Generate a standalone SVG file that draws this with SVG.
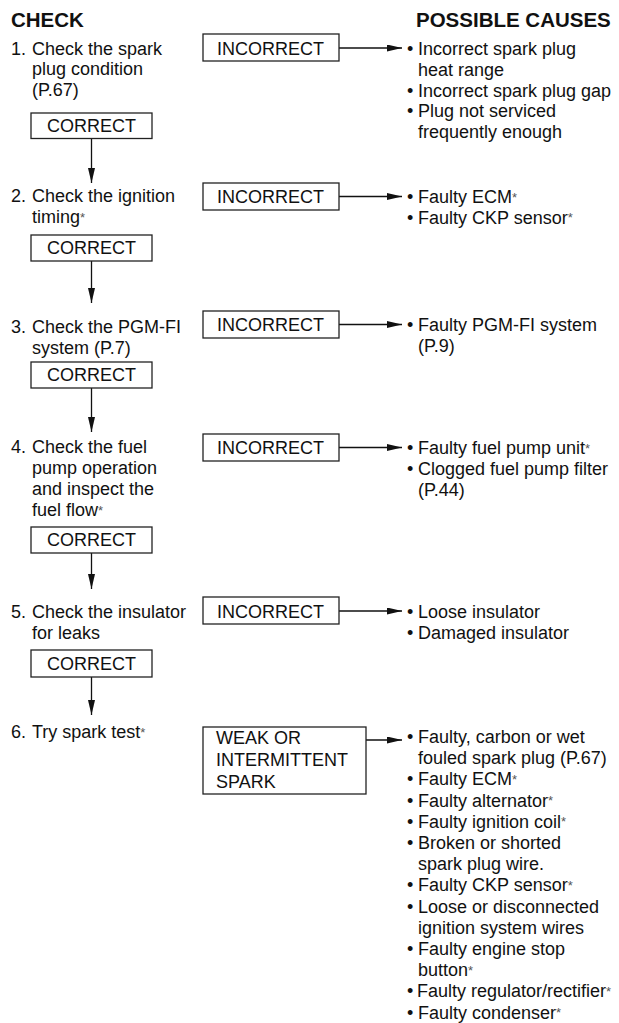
<svg xmlns="http://www.w3.org/2000/svg" width="619" height="1023" viewBox="0 0 619 1023">
<defs>
<marker id="ah" markerUnits="userSpaceOnUse" markerWidth="16" markerHeight="8" refX="15" refY="3.5" orient="auto">
<path d="M0,0 L15,3.5 L0,7 z" fill="#111"/>
</marker>
<style>
text{font-family:"Liberation Sans",Arial,Helvetica,sans-serif;font-size:18px;fill:#111}
.h{font-weight:bold;font-size:20.5px}
.box{fill:#fff;stroke:#222;stroke-width:1.3}
.c{text-anchor:middle}
.ln{stroke:#111;stroke-width:1.3;fill:none}
.s{font-size:13px;fill:#555}
</style>
</defs>
<rect width="619" height="1023" fill="#fff"/>

<g id="headings">
<text class="h" x="11" y="27">CHECK</text>
<text class="h" x="416" y="27">POSSIBLE CAUSES</text>
</g>

<g id="connectors">
<line class="ln" x1="91.5" y1="138.5" x2="91.5" y2="183" marker-end="url(#ah)"/>
<line class="ln" x1="91.5" y1="261" x2="91.5" y2="303" marker-end="url(#ah)"/>
<line class="ln" x1="91.5" y1="388" x2="91.5" y2="432" marker-end="url(#ah)"/>
<line class="ln" x1="91.5" y1="553" x2="91.5" y2="589" marker-end="url(#ah)"/>
<line class="ln" x1="91.5" y1="677" x2="91.5" y2="715" marker-end="url(#ah)"/>
<line class="ln" x1="339" y1="48" x2="402" y2="48" marker-end="url(#ah)"/>
<line class="ln" x1="339" y1="196.5" x2="402" y2="196.5" marker-end="url(#ah)"/>
<line class="ln" x1="339" y1="324.5" x2="402" y2="324.5" marker-end="url(#ah)"/>
<line class="ln" x1="339" y1="447.5" x2="402" y2="447.5" marker-end="url(#ah)"/>
<line class="ln" x1="339" y1="611" x2="402" y2="611" marker-end="url(#ah)"/>
<line class="ln" x1="366" y1="740" x2="402" y2="740" marker-end="url(#ah)"/>
</g>

<g id="step1">
<text x="11" y="54.5">1.</text>
<text x="32" y="54.5">Check the spark</text>
<text x="32" y="75">plug condition</text>
<text x="32" y="95.5">(P.67)</text>
</g>
<g id="correct1"><rect class="box" x="31" y="113" width="121" height="25.5"/><text class="c" x="91.5" y="132">CORRECT</text></g>
<g id="incorrect1"><rect class="box" x="203" y="34" width="136" height="27"/><text x="217" y="55">INCORRECT</text></g>
<g id="causes1">
<text x="407" y="55">•</text><text x="418" y="55">Incorrect spark plug</text>
<text x="418" y="76">heat range</text>
<text x="407" y="96.5">•</text><text x="418" y="96.5">Incorrect spark plug gap</text>
<text x="407" y="117">•</text><text x="418" y="117">Plug not serviced</text>
<text x="418" y="137.5">frequently enough</text>
</g>

<g id="step2">
<text x="11" y="202">2.</text>
<text x="32" y="202">Check the ignition</text>
<text x="32" y="223">timing<tspan class="s" dy="-1.5">*</tspan></text>
</g>
<g id="correct2"><rect class="box" x="31" y="235" width="121" height="26"/><text class="c" x="91.5" y="254">CORRECT</text></g>
<g id="incorrect2"><rect class="box" x="203" y="183" width="136" height="27"/><text x="217" y="203">INCORRECT</text></g>
<g id="causes2">
<text x="407" y="203">•</text><text x="418" y="203">Faulty ECM<tspan class="s" dy="-1.5">*</tspan></text>
<text x="407" y="223.5">•</text><text x="418" y="223.5">Faulty CKP sensor<tspan class="s" dy="-1.5">*</tspan></text>
</g>

<g id="step3">
<text x="11" y="333">3.</text>
<text x="32" y="333">Check the PGM-FI</text>
<text x="32" y="354">system (P.7)</text>
</g>
<g id="correct3"><rect class="box" x="31" y="362" width="121" height="26"/><text class="c" x="91.5" y="381">CORRECT</text></g>
<g id="incorrect3"><rect class="box" x="203" y="311" width="136" height="27"/><text x="217" y="331">INCORRECT</text></g>
<g id="causes3">
<text x="407" y="331">•</text><text x="418" y="331">Faulty PGM-FI system</text>
<text x="418" y="351.5">(P.9)</text>
</g>

<g id="step4">
<text x="11" y="453">4.</text>
<text x="32" y="453">Check the fuel</text>
<text x="32" y="474">pump operation</text>
<text x="32" y="495">and inspect the</text>
<text x="32" y="516">fuel flow<tspan class="s" dy="-1.5">*</tspan></text>
</g>
<g id="correct4"><rect class="box" x="31" y="527" width="121" height="26"/><text class="c" x="91.5" y="546">CORRECT</text></g>
<g id="incorrect4"><rect class="box" x="203" y="434" width="136" height="27"/><text x="217" y="454">INCORRECT</text></g>
<g id="causes4">
<text x="407" y="454">•</text><text x="418" y="454">Faulty fuel pump unit<tspan class="s" dy="-1.5">*</tspan></text>
<text x="407" y="475">•</text><text x="418" y="475">Clogged fuel pump filter</text>
<text x="418" y="496">(P.44)</text>
</g>

<g id="step5">
<text x="11" y="618">5.</text>
<text x="32" y="618">Check the insulator</text>
<text x="32" y="639">for leaks</text>
</g>
<g id="correct5"><rect class="box" x="31" y="650" width="121" height="27"/><text class="c" x="91.5" y="670">CORRECT</text></g>
<g id="incorrect5"><rect class="box" x="203" y="597" width="136" height="27"/><text x="217" y="618">INCORRECT</text></g>
<g id="causes5">
<text x="407" y="618">•</text><text x="418" y="618">Loose insulator</text>
<text x="407" y="639">•</text><text x="418" y="639">Damaged insulator</text>
</g>

<g id="step6">
<text x="11" y="738">6.</text>
<text x="32" y="738">Try spark test<tspan class="s" dy="-1.5">*</tspan></text>
</g>
<g id="weak6"><rect class="box" x="203" y="727" width="163" height="67"/>
<text x="216" y="744">WEAK OR</text>
<text x="216" y="766">INTERMITTENT</text>
<text x="216" y="788">SPARK</text>
</g>
<g id="causes6">
<text x="407" y="743">•</text><text x="418" y="743">Faulty, carbon or wet</text>
<text x="418" y="764.2">fouled spark plug (P.67)</text>
<text x="407" y="785.4">•</text><text x="418" y="785.4">Faulty ECM<tspan class="s" dy="-1.5">*</tspan></text>
<text x="407" y="806.6">•</text><text x="418" y="806.6">Faulty alternator<tspan class="s" dy="-1.5">*</tspan></text>
<text x="407" y="827.8">•</text><text x="418" y="827.8">Faulty ignition coil<tspan class="s" dy="-1.5">*</tspan></text>
<text x="407" y="849">•</text><text x="418" y="849">Broken or shorted</text>
<text x="418" y="870.2">spark plug wire.</text>
<text x="407" y="891.4">•</text><text x="418" y="891.4">Faulty CKP sensor<tspan class="s" dy="-1.5">*</tspan></text>
<text x="407" y="912.6">•</text><text x="418" y="912.6">Loose or disconnected</text>
<text x="418" y="933.8">ignition system wires</text>
<text x="407" y="955">•</text><text x="418" y="955">Faulty engine stop</text>
<text x="418" y="976.2">button<tspan class="s" dy="-1.5">*</tspan></text>
<text x="407" y="997.4">•</text><text x="417" y="997.4">Faulty regulator/rectifier<tspan class="s" dy="-1.5">*</tspan></text>
<text x="407" y="1018.6">•</text><text x="418" y="1018.6">Faulty condenser<tspan class="s" dy="-1.5">*</tspan></text>
</g>
</svg>
